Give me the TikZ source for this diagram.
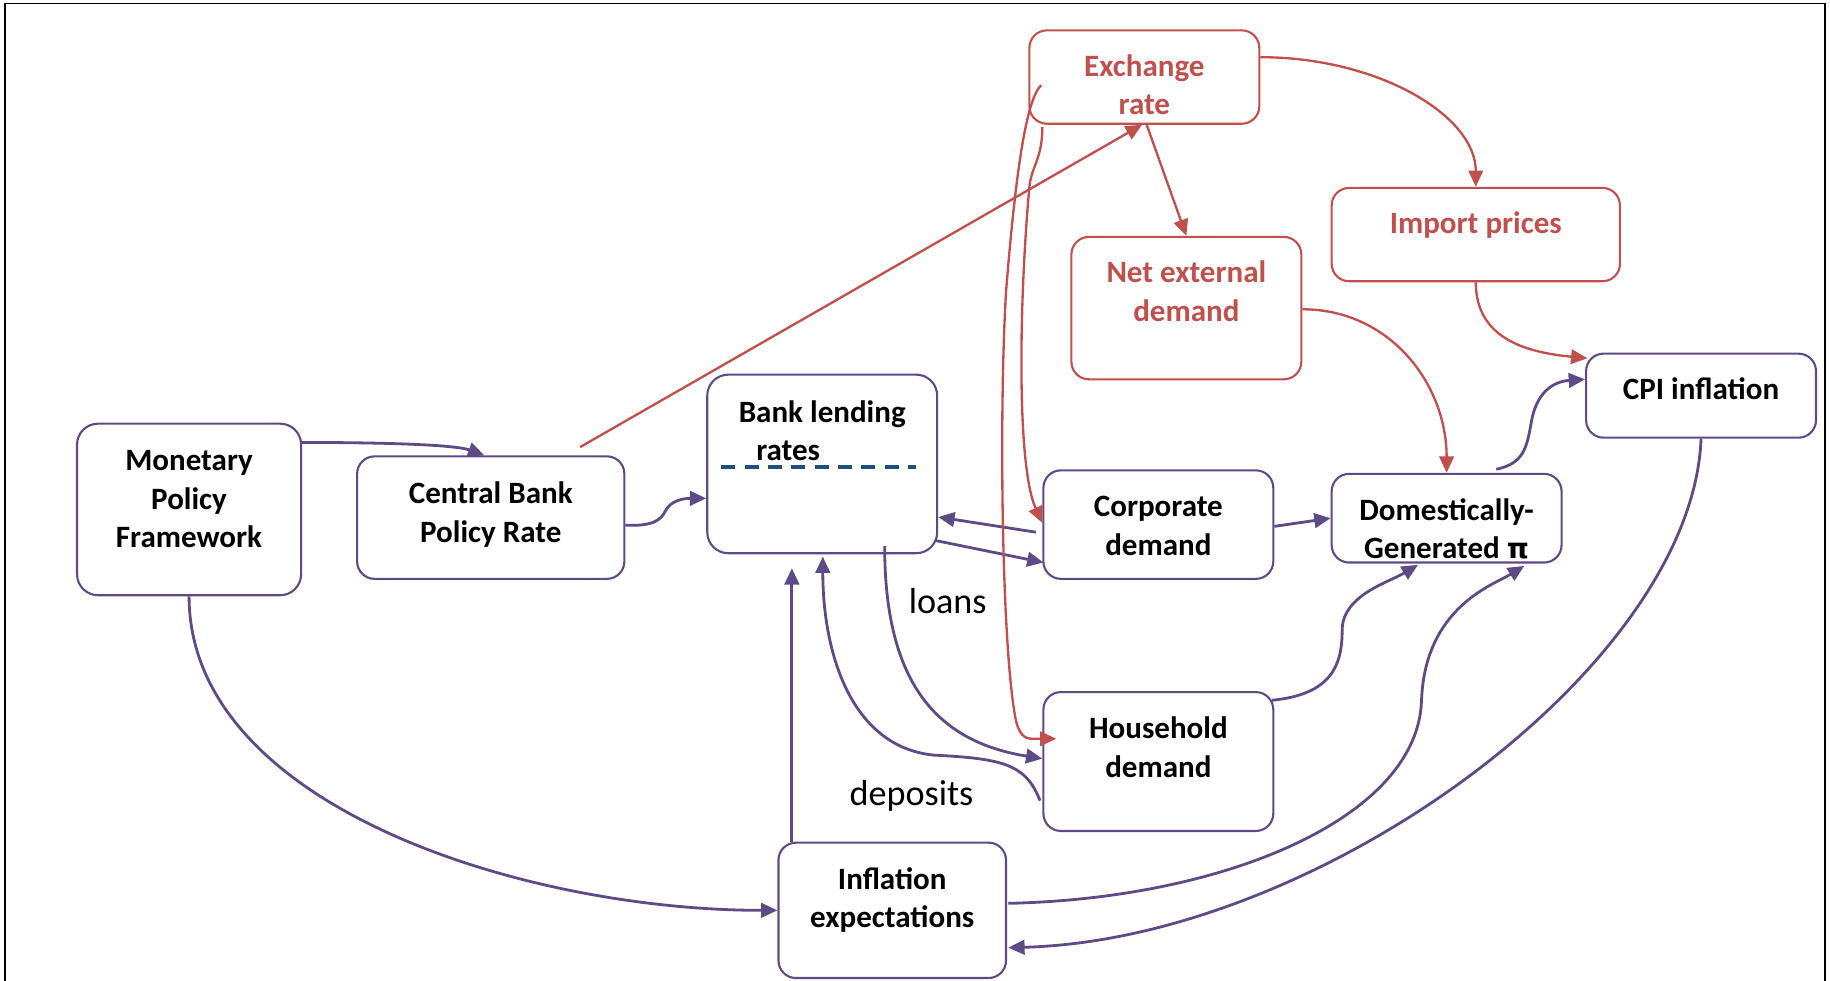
\documentclass[tikz,border=0pt]{standalone}
\usepackage{fontspec}
\setmainfont{Carlito}
\newfontfamily\grkfont{DejaVu Sans}
\usetikzlibrary{arrows.meta,calc}
\definecolor{vio}{HTML}{5E4B86}
\definecolor{brick}{HTML}{C0504D}
\definecolor{navy}{HTML}{1F4E79}
\begin{document}
\begin{tikzpicture}[x=1pt,y=-1pt,
  box/.style={draw=vio,fill=white,line width=1.8pt,rounded corners=15pt,inner sep=0pt},
  redbox/.style={box,draw=brick},
  btxt/.style={font=\fontsize{26.6}{33}\selectfont\bfseries,align=center,inner sep=0pt,anchor=north},
  rtxt/.style={btxt,text=brick},
  flow/.style={draw=vio,line width=2.4pt,-{Triangle[length=14pt,width=12.5pt]}},
  rflow/.style={draw=brick,line width=2pt,-{Triangle[length=14pt,width=12.5pt]}},
  note/.style={font=\fontsize{31}{37}\selectfont,inner sep=0pt}]
\useasboundingbox (0,0) rectangle (1568,840);
% outer frame
\draw[line width=1.7pt,black] (4,842) -- (4,3) -- (1563.5,3) -- (1563.5,842);

% boxes
\node[box,minimum width=192pt,minimum height=147pt,rounded corners=18pt] (mpf) at (162,436.5) {};
\node[box,minimum width=229pt,minimum height=105pt] (cbr) at (420.5,443.5) {};
\node[box,minimum width=197pt,minimum height=153pt,rounded corners=18pt] (blr) at (704.5,397.5) {};
\node[redbox,minimum width=197pt,minimum height=80pt] (exr) at (980.5,66) {};
\node[redbox,minimum width=197pt,minimum height=122pt] (ned) at (1016.5,264) {};
\node[redbox,minimum width=247pt,minimum height=80pt] (imp) at (1264.5,201) {};
\node[box,minimum width=197pt,minimum height=72pt] (cpi) at (1457.5,339) {};
\node[box,minimum width=197pt,minimum height=93pt] (cor) at (992.5,449.5) {};
\node[box,minimum width=197pt,minimum height=76pt] (dom) at (1239.5,444) {};
\node[box,minimum width=197pt,minimum height=119pt] (hh) at (992.5,652.5) {};
\node[box,minimum width=195pt,minimum height=116pt] (inf) at (764.5,780) {};

% box texts
\node[btxt] (mpf-t) at ($(mpf.north)+(0,18)$) {\strut Monetary\\Policy\\Framework};
\node[btxt] (cbr-t) at ($(cbr.north)+(0,18)$) {\strut Central Bank\\Policy Rate};
\node[btxt,align=left] (blr-t) at ($(blr.north)+(0,18.5)$) {\strut Bank lending\\\hspace*{15pt}rates};
\node[rtxt] (exr-t) at ($(exr.north)+(0,17)$) {\strut Exchange\\rate};
\node[rtxt] (ned-t) at ($(ned.north)+(0,17)$) {\strut Net external\\demand};
\node[rtxt] (imp-t) at ($(imp.north)+(0,17)$) {\strut Import prices};
\node[btxt] (cpi-t) at ($(cpi.north)+(0,17)$) {\strut CPI inflation};
\node[btxt] (cor-t) at ($(cor.north)+(0,17.5)$) {\strut Corporate\\demand};
\node[btxt] (dom-t) at ($(dom.north)+(0,17.5)$) {\strut Domestically-\\Generated {\grkfont\fontsize{24}{33}\selectfont π}};
\node[btxt] (hh-t) at ($(hh.north)+(0,17.5)$) {\strut Household\\demand};
\node[btxt] (inf-t) at ($(inf.north)+(0,17.5)$) {\strut Inflation\\expectations};

% dashed divider in the lending-rates box
\coordinate (dashL) at ($(blr.west)+(13,2.5)$);
\coordinate (dashR) at ($(blr.east)+(-19,2.5)$);
\draw[navy,line width=3pt,dash pattern=on 12pt off 8pt] (dashL) -- (dashR);

% purple links
\draw[flow] ($(mpf.north east)+(0,17)$) .. controls +(72,0) and +(-25,-9) .. ($(cbr.north)+(-5.5,0)$);
\draw[flow] ($(cbr.east)+(0,6.5)$) .. controls +(23,1) and +(-4,8) .. (570,438)
            .. controls +(5,-10) and +(-18,0) .. ($(blr.west)+(0,29.5)$);
\draw[flow] ($(dom.north)+(42.5,-3)$) .. controls +(23,-5) and +(-4,23) .. (1312,362)
            .. controls +(4,-24) and +(-29,2) .. ($(cpi.west)+(0,-14)$);
\draw[flow] ($(cor.west)+(-5.5,6.5)$) -- ($(blr.east)+(0,45.5)$);
\draw[flow] ($(blr.east)+(-3,65.5)$) -- ($(cor.west)+(1,32.5)$);
\draw[flow] ($(cor.east)+(0,1.5)$) -- (dom.west);
\draw[flow] ($(blr.south)+(53.5,-7)$) .. controls +(0,113) and +(-94,-15) .. ($(hh.west)+(0,-2.5)$);
\draw[flow] ($(hh.west)+(-2,33.5)$) .. controls +(-12,-31) and +(60,3) .. (800,647)
            .. controls +(-70,-7) and +(0,84) .. ($(blr.south)+(0.5,2)$);
\draw[flow] ($(inf.north)+(-86,0)$) -- ($(blr.south)+(-26,12)$);
\draw[flow] ($(hh.east)+(-2,-52.5)$) .. controls +(51,-5) and +(0,30) .. (1150,540)
            .. controls +(0,-30) and +(-25,15) .. ($(dom.south)+(-24.5,1)$);
\draw[flow] ($(inf.east)+(1,-6)$) .. controls +(187,-4) and +(-3,100) .. (1218,600)
            .. controls +(3,-80) and +(-26,16) .. ($(dom.south)+(66.5,2)$);
\draw[flow] (cpi.south) .. controls +(-7.5,195) and +(267,-7) .. ($(inf.east)+(1,32)$);
\draw[flow] (mpf.south) .. controls +(0,180) and +(-217,0) .. (inf.west);

% red links
\draw[rflow] ($(cbr.north)+(76.5,-7)$) -- ($(exr.south)+(-2,0)$);
\draw[rflow] ($(exr.south)+(2,0)$) -- (ned.north);
\draw[rflow] ($(exr.east)+(0,-17)$) .. controls +(101,0) and +(0,-61) .. (imp.north);
\draw[rflow] ($(ned.east)+(0,1)$) .. controls +(75,0) and +(0,-76) .. (dom.north);
\draw[rflow] (imp.south) .. controls +(0,49) and +(-51,-5) .. ($(cpi.west)+(2,-32)$);
\draw[rflow] ($(exr.west)+(11,7)$) .. controls +(-13,12) and +(8,-100) .. (862,250)
             .. controls +(-6,100) and +(-12,-65) .. (870,615)
             .. controls +(3,15) and +(-7,0) .. (885,633) -- ($(hh.west)+(12,-19.5)$);
\draw[rflow] ($(exr.south west)+(12,2)$) .. controls +(0,27) and +(2,-18) .. (882,160)
             .. controls +(-9,100) and +(-22,-48) .. ($(cor.west)+(0,-1.5)$);

% flow labels
\node[note] (loans) at (812,515) {loans};
\node[note] (deps) at (781,682) {deposits};
\end{tikzpicture}
\end{document}
